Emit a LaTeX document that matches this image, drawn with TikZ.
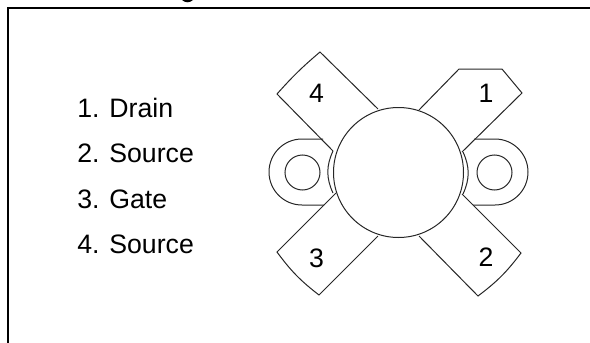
\documentclass[tikz,border=0pt]{standalone}
\usepackage{fontspec}
\setmainfont{Liberation Sans}
\begin{document}
\begin{tikzpicture}[
    x=0.75pt,
    y=-0.75pt,
    outline/.style={
        line width=0.75pt,
        color=black!85
    },
    frame/.style={
        line width=1.8pt,
        color=black
    },
    pinlist/.style={
        anchor=base west,
        inner sep=0pt,
        font=\fontsize{20}{24}\selectfont
    },
    pinnum/.style={
        anchor=base,
        inner sep=0pt,
        font=\fontsize{20}{24}\selectfont
    }
]
\useasboundingbox (0,0) rectangle (590,343);

% Outer frame
\draw[frame] (8,343) -- (8,8) -- (590,8);
\fill (182,0) .. controls (185,3) and (190,3) .. (193,0) -- cycle;

% Pin list
\node[pinlist] (drain) at (77,117) {1. Drain};
\node[pinlist] (source2) at (77,162) {2. Source};
\node[pinlist] (gate) at (77,208) {3. Gate};
\node[pinlist] (source4) at (77,253) {4. Source};

% Package body
\draw[outline] (398.5,172.5) circle (65);

% Leads
\draw[outline] (378,109) -- (320,52) to[bend right=4] (277,94) -- (333,151);
\draw[outline] (419,110) -- (459,69) -- (502,69) -- (522,93) -- (462,152);
\draw[outline] (336,193) -- (277,252) to[bend right=8] (319,295) -- (378,236);
\draw[outline] (462,194) -- (521,253) to[bend left=8] (478,296) -- (419,236);

% Flanges
\draw[outline] (323,139) -- (302,139) arc (-90:-270:33) -- (324,205);
\draw[outline] (474,139) -- (495,139) arc (-90:90:33) -- (473,205);
\draw[outline] (302.5,172.5) circle (17.5);
\draw[outline] (494.5,172.5) circle (17.5);
\draw[outline] (333,151) to[bend right=25] (333,193);
\draw[outline] (463,152) to[bend left=25] (463,194);

% Lead numbers
\node[pinnum] (n1) at (486,102) {1};
\node[pinnum] (n2) at (486,266) {2};
\node[pinnum] (n3) at (316.5,267) {3};
\node[pinnum] (n4) at (316.5,102) {4};

\end{tikzpicture}
\end{document}
